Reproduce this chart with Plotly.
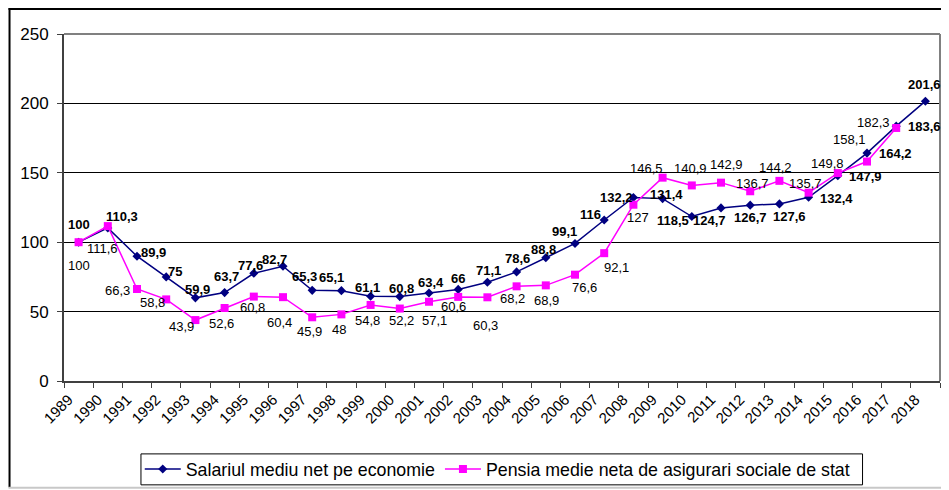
import plotly.graph_objects as go

# ---- data ----
years = [str(y) for y in range(1989, 2019)]
salary = [100, 110.3, 89.9, 75, 59.9, 63.7, 77.6, 82.7, 65.3, 65.1, 61.1, 60.8, 63.4, 66,
          71.1, 78.6, 88.8, 99.1, 116, 132.2, 131.4, 118.5, 124.7, 126.7, 127.6, 132.4,
          147.9, 164.2, 183.6, 201.6]
pension = [100, 111.6, 66.3, 58.8, 43.9, 52.6, 60.8, 60.4, 45.9, 48, 54.8, 52.2, 57.1, 60.6,
           60.3, 68.2, 68.9, 76.6, 92.1, 127, 146.5, 140.9, 142.9, 136.7, 144.2, 135.7,
           149.8, 158.1, 182.3]
salary_name = "Salariul mediu net pe economie"
pension_name = "Pensia medie neta de asigurari sociale de stat"
y_ticks = [0, 50, 100, 150, 200, 250]

# ---- label offsets (pixels, dx right, dy down) ----
salary_off = [(0, -18), (14, -11), (16, -4), (9, -5), (2.5, -8), (2, -16), (-3, -8), (-9, -6.5),
              (-8, -14), (-10, -13), (-3.5, -8.5), (1.5, -8), (1.5, -11), (0, -11), (1.5, -12),
              (0.5, -13), (-2, -8), (-11, -12), (-14, -5), (-17, 0), (3.5, -4), (-19, 4),
              (-12, 13), (0, 12), (10, 13), (28, 1), (28, 1), (28.5, 0), (28, 0.5), (-1, -17)]
pension_off = [(0, 23.5), (-5, 22), (-19.5, 2), (-14, 3), (-14, 6.5), (-3, 15.5), (-1, 11),
               (-4, 25.5), (-3, 14), (-2.5, 15), (-3, 16), (1.5, 12), (5, 19), (-5, 10),
               (-2, 28), (-4, 12), (1, 15), (9, 13), (12, 14), (5, 12.5), (-16, -9), (-1, -17),
               (5, -18), (2, -8), (-4, -13.5), (-3, -9), (-10.5, -10), (-18, -22), (-22.5, -5.5)]

# page body has an 8px margin: lay out in figure coords = screen coords - 8
OFF = 8
W, H = 949 - OFF, 490 - OFF
PL, PR, PT, PB = 63.5, 940, 34, 381.5          # plot area on screen
L, R, T, B = PL - OFF, W - (PR - OFF), PT - OFF, H - (PB - OFF)
FONT = "Liberation Sans, Arial, sans-serif"


def fmt(v):
    return f"{v:g}".replace(".", ",")


def pxx(sx):
    fx = sx - OFF
    return (fx - L) / (W - L - R)


def pxy(sy):
    fy = sy - OFF
    return (H - B - fy) / (H - T - B)


fig = go.Figure()
fig.add_trace(go.Scatter(
    x=years, y=salary, name=salary_name, mode="lines+markers",
    line=dict(color="#000080", width=1.5),
    marker=dict(symbol="diamond", size=7, color="#000080"),
))
fig.add_trace(go.Scatter(
    x=years[:len(pension)], y=pension, name=pension_name, mode="lines+markers",
    line=dict(color="#FF00FF", width=1.5),
    marker=dict(symbol="square", size=8, color="#FF00FF"),
))

annotations = []
for i, v in enumerate(salary):
    dx, dy = salary_off[i]
    annotations.append(dict(x=i, y=v, xref="x", yref="y", text="<b>" + fmt(v) + "</b>",
                            showarrow=False, xshift=dx, yshift=-dy,
                            font=dict(size=13, family=FONT, color="black")))
for i, v in enumerate(pension):
    dx, dy = pension_off[i]
    annotations.append(dict(x=i, y=v, xref="x", yref="y", text=fmt(v),
                            showarrow=False, xshift=dx, yshift=-dy,
                            font=dict(size=13, family=FONT, color="black")))

shapes = [
    # plot area top and right borders (gray)
    dict(type="line", xref="paper", yref="paper", x0=0, x1=1, y0=1, y1=1,
         line=dict(color="#808080", width=2)),
    dict(type="line", xref="paper", yref="paper", x0=1, x1=1, y0=0, y1=1,
         line=dict(color="#808080", width=2)),
    # outer chart frame
    dict(type="line", xref="paper", yref="paper", x0=pxx(8), x1=pxx(949), y0=pxy(9), y1=pxy(9),
         line=dict(color="black", width=2)),
    dict(type="line", xref="paper", yref="paper", x0=pxx(9), x1=pxx(9), y0=pxy(8), y1=pxy(488),
         line=dict(color="black", width=2)),
    dict(type="line", xref="paper", yref="paper", x0=pxx(8), x1=pxx(949), y0=pxy(488.5), y1=pxy(488.5),
         line=dict(color="#c8c8c8", width=2)),
    # legend box
    dict(type="rect", xref="paper", yref="paper", x0=pxx(140.5), x1=pxx(862.5),
         y0=pxy(454.5), y1=pxy(485.5), line=dict(color="black", width=1), fillcolor="white",
         layer="below"),
]

fig.update_layout(
    width=W, height=H,
    margin=dict(l=L, r=R, t=T, b=B, pad=0, autoexpand=False),
    paper_bgcolor="white", plot_bgcolor="white",
    font=dict(family=FONT, color="black"),
    showlegend=True,
    legend=dict(orientation="h", x=pxx(497), xanchor="center", y=pxy(470), yanchor="middle",
                borderwidth=0, bgcolor="rgba(0,0,0,0)",
                font=dict(size=17.8, family=FONT, color="black"),
                itemwidth=36, tracegroupgap=0),
    annotations=annotations,
    shapes=shapes,
)
fig.update_xaxes(
    type="category", range=[-0.5, len(years) - 0.5], tickson="boundaries",
    ticks="outside", ticklen=5, tickwidth=1, tickcolor="#404040",
    tickangle=-45, tickfont=dict(size=15, family=FONT, color="black"),
    ticklabelshift=-10, ticklabelstandoff=2,
    showline=True, linecolor="#404040", linewidth=2, showgrid=False, zeroline=False,
)
fig.update_yaxes(
    range=[0, 250], tickvals=y_ticks, ticktext=[str(t) for t in y_ticks],
    ticks="outside", ticklen=5, tickwidth=1, tickcolor="#404040",
    tickfont=dict(size=17, family=FONT, color="black"), ticklabelstandoff=5,
    showline=True, linecolor="#404040", linewidth=2,
    showgrid=True, gridcolor="black", gridwidth=1, zeroline=False,
)

fig.write_html("out.html")
